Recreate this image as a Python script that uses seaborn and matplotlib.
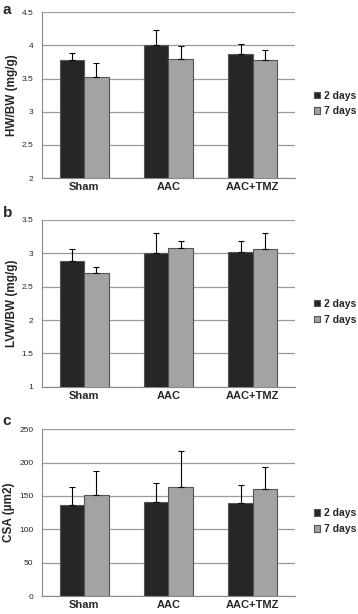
import numpy as np
import pandas as pd
import matplotlib
matplotlib.use("Agg")
import matplotlib.pyplot as plt
import seaborn as sns

groups = ["Sham", "AAC", "AAC+TMZ"]
periods = ["2 days", "7 days"]

# panel a : HW/BW
hw_2d = [3.78, 4.00, 3.87]
hw_7d = [3.52, 3.80, 3.78]
hw_err_2d = [0.11, 0.24, 0.15]
hw_err_7d = [0.22, 0.19, 0.15]

# panel b : LVW/BW
lvw_2d = [2.88, 3.00, 3.02]
lvw_7d = [2.70, 3.08, 3.06]
lvw_err_2d = [0.18, 0.31, 0.16]
lvw_err_7d = [0.10, 0.11, 0.24]

# panel c : CSA
csa_2d = [136, 141, 140]
csa_7d = [151, 164, 161]
csa_err_2d = [27, 28, 27]
csa_err_7d = [36, 54, 32]

sns.set_style("white")
plt.rcParams['font.family'] = ['Liberation Sans', 'DejaVu Sans']

colors = {"2 days": "#262626", "7 days": "#a3a3a3"}

panels = [
    ("a", "HW/BW (mg/g)", hw_2d, hw_7d, hw_err_2d, hw_err_7d, (2, 4.5), np.arange(2, 4.51, 0.5), ["2", "2.5", "3", "3.5", "4", "4.5"]),
    ("b", "LVW/BW (mg/g)", lvw_2d, lvw_7d, lvw_err_2d, lvw_err_7d, (1, 3.5), np.arange(1, 3.51, 0.5), ["1", "1.5", "2", "2.5", "3", "3.5"]),
    ("c", "CSA (µm2)", csa_2d, csa_7d, csa_err_2d, csa_err_7d, (0, 250), np.arange(0, 251, 50), ["0", "50", "100", "150", "200", "250"]),
]

# axes boxes [left, bottom, width, height] in figure fractions
boxes = [
    [0.117, 0.710, 0.707, 0.270],
    [0.117, 0.370, 0.707, 0.272],
    [0.117, 0.029, 0.707, 0.272],
]
letter_y = [0.995, 0.665, 0.325]

fig = plt.figure(figsize=(3.58, 6.14), dpi=100)

for (letter, ylab, v2, v7, e2, e7, ylim, yt, ytl), box, ly in zip(panels, boxes, letter_y):
    ax = fig.add_axes(box)
    df = pd.DataFrame({
        "group": groups * 2,
        "period": [periods[0]] * 3 + [periods[1]] * 3,
        "value": list(v2) + list(v7),
        "err": list(e2) + list(e7),
    })
    sns.barplot(data=df, x="group", y="value", hue="period", order=groups,
                hue_order=periods, palette=colors, width=0.58, errorbar=None,
                edgecolor="#555555", linewidth=0.8, ax=ax, zorder=3)

    # upper error bars only, placed on the bars drawn by seaborn
    bars = [p for p in ax.patches if p.get_height() > 0][:6]
    for bar, (_, row) in zip(bars, df.iterrows()):
        xc = bar.get_x() + bar.get_width() / 2
        ax.errorbar(xc, row["value"], yerr=[[0], [row["err"]]], fmt="none",
                    ecolor="black", elinewidth=0.8, capsize=2, capthick=0.8, zorder=4)

    ax.set_ylim(*ylim)
    ax.set_xlim(-0.5, 2.5)
    ax.set_yticks(yt)
    ax.set_yticklabels(ytl, fontsize=6)
    ax.yaxis.grid(True, color="#9a9a9a", linewidth=0.9, zorder=0)
    ax.set_axisbelow(True)
    ax.set_xticks(range(3))
    ax.set_xticklabels(groups, fontsize=8, fontweight="bold")
    ax.set_xticks([-0.5, 0.5, 1.5, 2.5], minor=True)
    ax.tick_params(axis="x", which="major", length=0, pad=3)
    ax.tick_params(axis="x", which="minor", length=3, color="#888888", width=0.8, direction="out")
    ax.tick_params(axis="y", length=2, color="#888888", width=0.8, direction="out", pad=4)
    ax.set_xlabel("")
    ax.set_ylabel(ylab, fontsize=8.5, fontweight="bold", labelpad=3)
    for s in ["top", "right"]:
        ax.spines[s].set_visible(False)
    for s in ["left", "bottom"]:
        ax.spines[s].set_color("#888888")
        ax.spines[s].set_linewidth(0.8)

    handles, labels = ax.get_legend_handles_labels()
    ax.legend(handles, labels, loc="center left", bbox_to_anchor=(1.075, 0.45),
              frameon=False, prop={"size": 7.5, "weight": "bold"},
              borderpad=0, borderaxespad=0,
              handlelength=0.6, handleheight=0.6, handletextpad=0.35, labelspacing=0.55)

    fig.text(0.008, ly, letter, fontsize=11, fontweight="bold", va="top", ha="left")

fig.savefig("out.png", dpi=100)
